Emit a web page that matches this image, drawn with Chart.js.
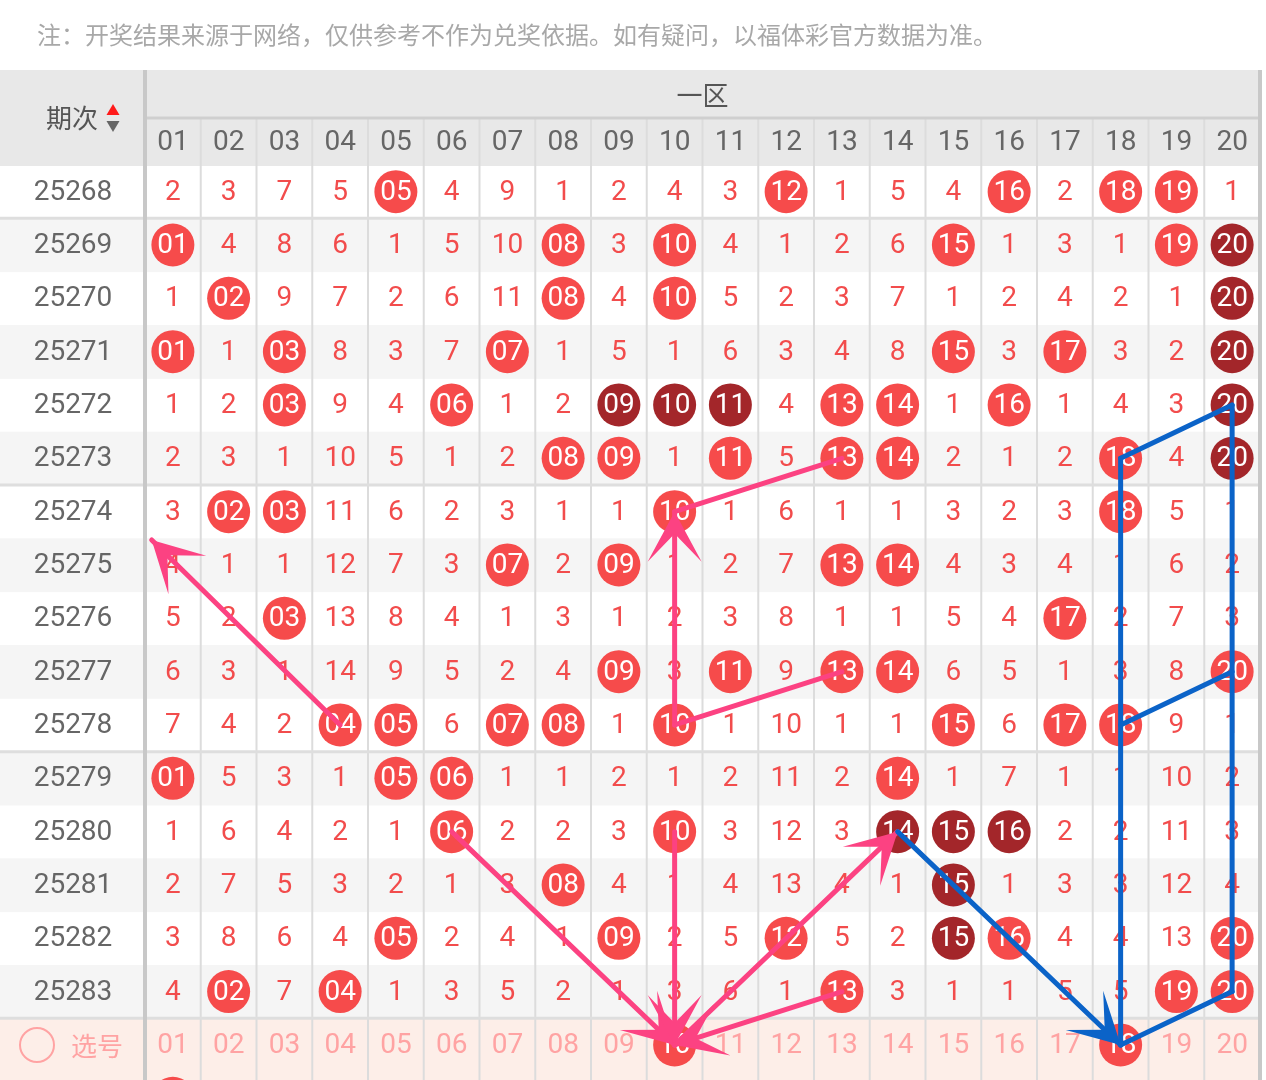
<!DOCTYPE html>
<html>
<head>
<meta charset="utf-8">
<script src="https://cdn.jsdelivr.net/npm/chart.js@4.4.1/dist/chart.umd.min.js"></script>
<style>
    html, body { margin: 0; padding: 0; background: #fff; }
    canvas { display: block; }
</style>
</head>
<body>
<canvas id="trendChart" width="1266" height="1080"></canvas>
<script>
// 期次
const periods = ['25268', '25269', '25270', '25271', '25272', '25273', '25274', '25275',
    '25276', '25277', '25278', '25279', '25280', '25281', '25282', '25283'];

// 号码 01-20
const ballLabels = ['01', '02', '03', '04', '05', '06', '07', '08', '09', '10',
    '11', '12', '13', '14', '15', '16', '17', '18', '19', '20'];

// 遗漏值（0 = 当期开出）
const omissions = [
    [2, 3, 7, 5, 0, 4, 9, 1, 2, 4, 3, 0, 1, 5, 4, 0, 2, 0, 0, 1],
    [0, 4, 8, 6, 1, 5, 10, 0, 3, 0, 4, 1, 2, 6, 0, 1, 3, 1, 0, 0],
    [1, 0, 9, 7, 2, 6, 11, 0, 4, 0, 5, 2, 3, 7, 1, 2, 4, 2, 1, 0],
    [0, 1, 0, 8, 3, 7, 0, 1, 5, 1, 6, 3, 4, 8, 0, 3, 0, 3, 2, 0],
    [1, 2, 0, 9, 4, 0, 1, 2, 0, 0, 0, 4, 0, 0, 1, 0, 1, 4, 3, 0],
    [2, 3, 1, 10, 5, 1, 2, 0, 0, 1, 0, 5, 0, 0, 2, 1, 2, 0, 4, 0],
    [3, 0, 0, 11, 6, 2, 3, 1, 1, 0, 1, 6, 1, 1, 3, 2, 3, 0, 5, 1],
    [4, 1, 1, 12, 7, 3, 0, 2, 0, 1, 2, 7, 0, 0, 4, 3, 4, 1, 6, 2],
    [5, 2, 0, 13, 8, 4, 1, 3, 1, 2, 3, 8, 1, 1, 5, 4, 0, 2, 7, 3],
    [6, 3, 1, 14, 9, 5, 2, 4, 0, 3, 0, 9, 0, 0, 6, 5, 1, 3, 8, 0],
    [7, 4, 2, 0, 0, 6, 0, 0, 1, 0, 1, 10, 1, 1, 0, 6, 0, 0, 9, 1],
    [0, 5, 3, 1, 0, 0, 1, 1, 2, 1, 2, 11, 2, 0, 1, 7, 1, 1, 10, 2],
    [1, 6, 4, 2, 1, 0, 2, 2, 3, 0, 3, 12, 3, 0, 0, 0, 2, 2, 11, 3],
    [2, 7, 5, 3, 2, 1, 3, 0, 4, 1, 4, 13, 4, 1, 0, 1, 3, 3, 12, 4],
    [3, 8, 6, 4, 0, 2, 4, 1, 0, 2, 5, 0, 5, 2, 0, 0, 4, 4, 13, 0],
    [4, 0, 7, 0, 1, 3, 5, 2, 1, 3, 6, 1, 0, 3, 1, 1, 5, 5, 0, 0],
];

// 连号・重号（深色球）: [行, 号码]
const darkBalls = [
    [1, 20], [2, 20], [3, 20], [4, 20], [5, 20],
    [4, 9], [4, 10], [4, 11],
    [12, 14], [12, 15], [12, 16], [13, 15], [14, 15],
];

// 选号行で選択済みの号码
const pickedRows = [[10, 18], [1]];

// 手書き矢印: [起点号码, 起点行, 終点号码, 終点行, 矢じり]
const pinkArrows = [
    [4, 10, 0.62, 6.53, true],
    [13, 5, 10, 6, false],
    [10, 10, 10, 6, true],
    [10, 10, 13, 9, false],
    [6, 12, 10, 16, true],
    [10, 12, 10, 16, true],
    [13, 15, 10, 16, true],
    [10, 16, 14, 12, true],
];
const blueArrows = [
    [14, 12, 18, 16, true],
    [18, 16, 20, 15, false],
    [20, 15, 20, 4, false],
    [20, 4, 18, 5, false],
    [18, 5, 18, 16, false],
    [18, 10, 20, 9, false],
];

const NOTE_TEXT = '注：开奖结果来源于网络，仅供参考不作为兑奖依据。如有疑问，以福体彩官方数据为准。';

// レイアウト定数
const LEFT = 145;
const TOP = 165;
const ROW_H = 53.33;
const CANVAS_W = 1266;
const CANVAS_H = 1080;
const NUM_FONT = "Roboto, 'Noto Sans', sans-serif";
const CJK_FONT = "'Noto Sans CJK SC', sans-serif";

const COLOR = {
    ball: '#f64b4b',
    darkBall: '#a3262a',
    missText: '#f24c4c',
    headText: '#666666',
    pale: '#ffa3a3',
    pickBg: '#fdeee8',
    altBg: '#f5f5f5',
    headBg: '#e8e8e8',
    grid: '#dcdcdc',
    thick: '#c8c8c8',
    pink: '#fc4282',
    blue: '#0b63c8',
};

const pickStart = periods.length;
const isDark = (r, n) => darkBalls.some(([dr, dn]) => dr === r && dn === n);

// 球データ（開出・選号）
const ballPoints = [];
const ballColors = [];
omissions.forEach((row, r) => {
    row.forEach((v, c) => {
        if (v !== 0) return;
        ballPoints.push({ x: c + 1, y: r });
        ballColors.push(isDark(r, c + 1) ? COLOR.darkBall : COLOR.ball);
    });
});
pickedRows.forEach((nums, i) => {
    nums.forEach((n) => {
        ballPoints.push({ x: n, y: pickStart + i });
        ballColors.push(COLOR.ball);
    });
});

/**
 * 矢じりを描画する
 */
function drawArrowHead(ctx, x1, y1, x2, y2) {
    const angle = Math.atan2(y2 - y1, x2 - x1);
    ctx.save();
    ctx.translate(x2, y2);
    ctx.rotate(angle);
    ctx.beginPath();
    ctx.moveTo(0, 0);
    ctx.lineTo(-50, -27);
    ctx.lineTo(-22, 0);
    ctx.lineTo(-50, 27);
    ctx.closePath();
    ctx.fill();
    ctx.restore();
}

/**
 * 矢印セットを描画する
 */
function drawArrows(chart, arrows, color) {
    const { ctx, scales } = chart;
    ctx.save();
    ctx.strokeStyle = color;
    ctx.fillStyle = color;
    ctx.lineWidth = 5;
    ctx.lineCap = 'round';
    arrows.forEach(([c1, r1, c2, r2, head]) => {
        const x1 = scales.x.getPixelForValue(c1);
        const y1 = scales.y.getPixelForValue(r1);
        const x2 = scales.x.getPixelForValue(c2);
        const y2 = scales.y.getPixelForValue(r2);
        ctx.beginPath();
        ctx.moveTo(x1, y1);
        ctx.lineTo(x2, y2);
        ctx.stroke();
        if (head) drawArrowHead(ctx, x1, y1, x2, y2);
    });
    ctx.restore();
}

// 表の背景・罫線・見出し
const tablePlugin = {
    id: 'trendTable',
    beforeDraw: (chart) => {
        const { ctx, scales } = chart;
        const right = chart.chartArea.right;
        const rowTop = (r) => scales.y.getPixelForValue(r - 0.5);
        const colLeft = (c) => scales.x.getPixelForValue(c - 0.5);

        ctx.save();
        ctx.fillStyle = '#ffffff';
        ctx.fillRect(0, 0, CANVAS_W, CANVAS_H);

        // 注意書き
        ctx.fillStyle = '#a8a8a8';
        ctx.font = `24px ${CJK_FONT}`;
        ctx.textAlign = 'left';
        ctx.textBaseline = 'middle';
        ctx.fillText(NOTE_TEXT, 37, 35);

        // 行背景
        const totalRows = pickStart + pickedRows.length;
        for (let r = 0; r < totalRows; r++) {
            let bg = null;
            if (r >= pickStart) bg = COLOR.pickBg;
            else if (r % 2 === 1) bg = COLOR.altBg;
            if (!bg) continue;
            ctx.fillStyle = bg;
            ctx.fillRect(0, rowTop(r), right, ROW_H + 0.5);
        }

        // ヘッダー
        ctx.fillStyle = COLOR.headBg;
        ctx.fillRect(0, 70, right + 2, TOP - 70 + 1);

        // 縦罫線
        ctx.strokeStyle = COLOR.grid;
        ctx.lineWidth = 2;
        for (let c = 2; c <= ballLabels.length; c++) {
            const x = colLeft(c);
            ctx.beginPath();
            ctx.moveTo(x, 119);
            ctx.lineTo(x, CANVAS_H);
            ctx.stroke();
        }

        // ヘッダー区切り線
        ctx.strokeStyle = '#cfcfcf';
        ctx.lineWidth = 3;
        ctx.beginPath();
        ctx.moveTo(LEFT, 118);
        ctx.lineTo(right, 118);
        ctx.stroke();

        // 5期ごとの区切り線
        ctx.strokeStyle = '#dedede';
        ctx.lineWidth = 3;
        [1, 6, 11, 16].forEach((r) => {
            const y = rowTop(r);
            ctx.beginPath();
            ctx.moveTo(0, y);
            ctx.lineTo(right, y);
            ctx.stroke();
        });

        // 太い外枠線
        ctx.strokeStyle = COLOR.thick;
        ctx.lineWidth = 4;
        [LEFT, right].forEach((x) => {
            ctx.beginPath();
            ctx.moveTo(x, 70);
            ctx.lineTo(x, CANVAS_H);
            ctx.stroke();
        });

        // 見出し文字
        ctx.fillStyle = '#555555';
        ctx.font = `26px ${CJK_FONT}`;
        ctx.textAlign = 'center';
        ctx.fillText('一区', (LEFT + right) / 2, 95);
        ctx.fillText('期次', 72, 118);

        // 並び替え三角
        ctx.fillStyle = '#ff1a1a';
        ctx.beginPath();
        ctx.moveTo(113, 104);
        ctx.lineTo(119.5, 115);
        ctx.lineTo(106.5, 115);
        ctx.closePath();
        ctx.fill();
        ctx.fillStyle = '#666666';
        ctx.beginPath();
        ctx.moveTo(106.5, 121);
        ctx.lineTo(119.5, 121);
        ctx.lineTo(113, 132);
        ctx.closePath();
        ctx.fill();

        ctx.fillStyle = COLOR.headText;
        ctx.font = `28px ${NUM_FONT}`;
        ballLabels.forEach((label, i) => {
            ctx.fillText(label, scales.x.getPixelForValue(i + 1), 143);
        });
        ctx.restore();
    },
    afterDatasetsDraw: (chart) => {
        const { ctx, scales } = chart;
        ctx.save();
        ctx.textAlign = 'center';
        ctx.textBaseline = 'middle';

        // 期次
        ctx.fillStyle = COLOR.headText;
        ctx.font = `28px ${NUM_FONT}`;
        periods.forEach((p, r) => {
            ctx.fillText(p, 73, scales.y.getPixelForValue(r) + 1);
        });

        // 遗漏値・開出号码
        omissions.forEach((row, r) => {
            const y = scales.y.getPixelForValue(r) + 1;
            row.forEach((v, c) => {
                const x = scales.x.getPixelForValue(c + 1);
                ctx.fillStyle = v === 0 ? '#ffffff' : COLOR.missText;
                ctx.fillText(v === 0 ? ballLabels[c] : String(v), x, y);
            });
        });

        // 选号行
        pickedRows.forEach((nums, i) => {
            const r = pickStart + i;
            const y = scales.y.getPixelForValue(r) + 1;
            ctx.strokeStyle = COLOR.pale;
            ctx.lineWidth = 2;
            ctx.beginPath();
            ctx.arc(37, y - 1, 17, 0, Math.PI * 2);
            ctx.stroke();
            ctx.fillStyle = COLOR.pale;
            ctx.font = `26px ${CJK_FONT}`;
            ctx.fillText('选号', 97, y);
            ctx.font = `28px ${NUM_FONT}`;
            ballLabels.forEach((label, c) => {
                ctx.fillStyle = nums.includes(c + 1) ? '#ffffff' : COLOR.pale;
                ctx.fillText(label, scales.x.getPixelForValue(c + 1), y);
            });
        });
        ctx.restore();

        drawArrows(chart, pinkArrows, COLOR.pink);
        drawArrows(chart, blueArrows, COLOR.blue);
    },
};

new Chart(document.getElementById('trendChart'), {
    type: 'scatter',
    data: {
        datasets: [
            {
                label: '开出号码',
                data: ballPoints,
                backgroundColor: ballColors,
                borderWidth: 0,
                pointRadius: 21.5,
                pointHoverRadius: 21.5,
                clip: false,
            },
        ],
    },
    options: {
        responsive: false,
        devicePixelRatio: 1,
        animation: false,
        events: [],
        layout: {
            autoPadding: false,
            padding: { left: LEFT, top: TOP, right: CANVAS_W - LEFT - 1115, bottom: 0 },
        },
        scales: {
            x: { type: 'linear', min: 0.5, max: 20.5, display: false },
            y: { type: 'linear', reverse: true, min: -0.5, max: -0.5 + (CANVAS_H - TOP) / ROW_H, display: false },
        },
        plugins: {
            legend: { display: false },
            tooltip: { enabled: false },
        },
    },
    plugins: [tablePlugin],
});
</script>
</body>
</html>
